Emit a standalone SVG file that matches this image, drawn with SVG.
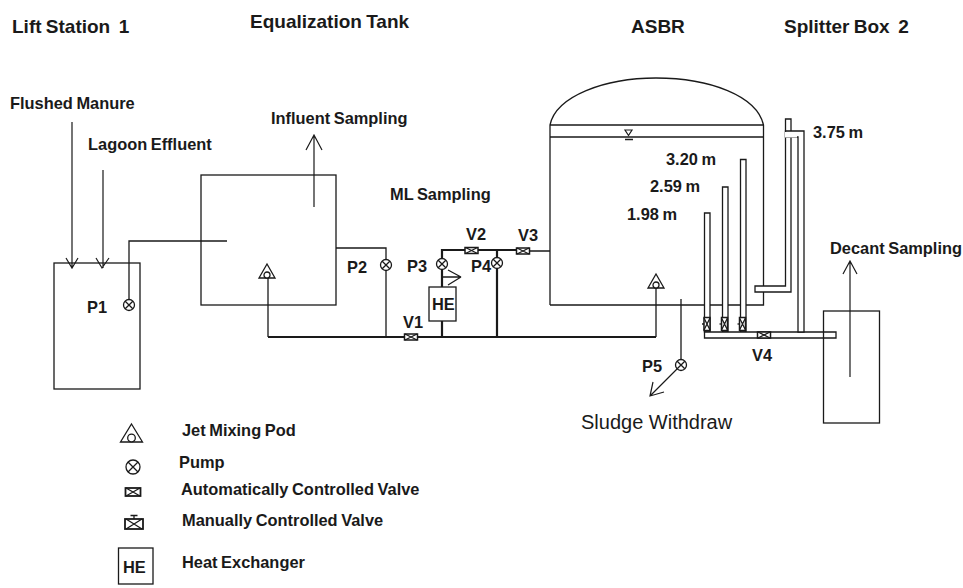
<svg xmlns="http://www.w3.org/2000/svg" width="963" height="588" viewBox="0 0 963 588">
<style>
text{font-family:"Liberation Sans",Arial,sans-serif;font-size:16.4px;font-weight:bold;fill:#1a1a1a;word-spacing:-1px}
.h{font-size:19px}
.l{fill:none;stroke:#1a1a1a;stroke-width:1.3}
.t{fill:none;stroke:#1a1a1a;stroke-width:2.2}
.w{fill:#fff;stroke:#1a1a1a;stroke-width:1.3}
.a{fill:none;stroke:#1a1a1a;stroke-width:1.2}
</style>
<defs>
<g id="pump"><circle r="5.5" class="w"/><path d="M-3.8-3.8L3.8 3.8M-3.8 3.800L3.8-3.8" class="l"/></g>
<g id="valve"><rect x="-6.5" y="-3" width="13" height="6" fill="#fff" stroke="#1a1a1a" stroke-width="1.5"/><path d="M-6-3L6 3M-6 3L6-3" class="l"/></g>
<g id="mvalve"><rect x="-3" y="-6.5" width="6" height="13" fill="#fff" stroke="#1a1a1a" stroke-width="1.5"/><path d="M-3-6L3 6M3-6L-3 6" class="l"/><path d="M-5 0H-3" class="l" stroke-width="2"/></g>
<g id="jet"><path d="M0-7L8 7H-8Z" class="w"/><circle cx="0" cy="4" r="3" class="w"/></g>
</defs>
<g id="titles">
<text class="h" x="12" y="33">Lift Station&#160; 1</text>
<text class="h" x="250" y="28">Equalization Tank</text>
<text class="h" x="631" y="33">ASBR</text>
<text class="h" x="784" y="33">Splitter Box&#160; 2</text>
</g>
<g id="connectors">
<path class="t" d="M268 337H656M442 337V250H520M497 337V250"/>
<path class="l" d="M129 300V241H227M336 248H386V337M268 337V278M656 337V288M520 251H550M681 299V362"/>
<path class="a" d="M72 122V268M66 258L72 268L78 258M103 170V268M96 258L102 268L109 258M314 207V135M306 150L314 135L322 150M850 377V261M843 274L850 261L857 274M681 365L650 396M653 382L650 396L664 392"/>
<path class="l" d="M442 277H461L448 270M461 277L448 285"/>
</g>
<g id="lift-station"><rect x="54" y="263" width="86" height="126" class="l"/><text x="87" y="313">P1</text><use href="#pump" x="129" y="305"/></g>
<g id="eq-tank"><rect x="201" y="175" width="135" height="130" class="l"/><use href="#jet" x="267" y="271"/><text x="347" y="273">P2</text><use href="#pump" x="386" y="265"/></g>
<g id="he"><rect x="429" y="287" width="27" height="34" class="w"/><text x="432" y="310">HE</text><use href="#pump" x="442" y="264"/><use href="#pump" x="497" y="263"/><use href="#valve" x="471.500" y="250.500"/><use href="#valve" x="523" y="251"/><use href="#valve" x="411" y="337"/></g>
<g id="asbr">
<path class="l" d="M550 305V125C556 96 605 78 656 78C710 78 757 96 763.500 125V305H550M550 125H763.500M550 137H763.500"/>
<path d="M625 130H632L628.500 135.500Z" fill="#fff" stroke="#1a1a1a" stroke-width="1.2"/><path d="M625 139.500H633" stroke="#1a1a1a" stroke-width="1.500"/>
<use href="#jet" x="656" y="281"/><use href="#pump" x="681" y="365"/>
</g>
<g id="piping">
<path class="w" d="M704.500 332V213H710V332ZM722.500 332V187H728V332ZM740.500 332V159.500H746V332Z"/>
<path class="w" d="M704.500 332H836V338H704.500Z"/>
<path class="w" d="M755 286H785.500V119H791V292H755Z"/>
<path class="w" d="M785.500 131H804V332H798V137H785.500Z"/>
<path d="M786 132V136.500H797M799 333V337" fill="none" stroke="#fff" stroke-width="2"/>
<use href="#mvalve" x="707" y="324"/><use href="#mvalve" x="724.500" y="324"/><use href="#mvalve" x="742.500" y="324"/><use href="#valve" x="764" y="335"/>
</g>
<g id="splitter"><rect x="823.500" y="311" width="56" height="112" class="l"/></g>
<g id="labels">
<text x="10" y="109">Flushed Manure</text>
<text x="88" y="150">Lagoon Effluent</text>
<text x="271" y="124">Influent Sampling</text>
<text x="390" y="200">ML Sampling</text>
<text x="407" y="272">P3</text><text x="471" y="272">P4</text><text x="466" y="240">V2</text><text x="518" y="241">V3</text><text x="403" y="328">V1</text>
<text x="642" y="372">P5</text><text x="752" y="361">V4</text>
<text x="666" y="165">3.20 m</text><text x="650" y="192">2.59 m</text><text x="627" y="220">1.98 m</text><text x="813" y="138">3.75 m</text>
<text x="830" y="254">Decant Sampling</text>
<text x="581" y="429" style="font-size:20px;font-weight:normal;word-spacing:0">Sludge Withdraw</text>
</g>
<g id="legend">
<g transform="translate(131.500 433)"><path d="M0-9L11 9H-11Z" class="w"/><circle cy="5" r="3.800" class="w"/></g>
<g transform="translate(133 467)"><circle r="7" class="w"/><path d="M-5-5L5 5M-5 5L5-5" class="l"/></g>
<g transform="translate(133 492)"><rect x="-7.500" y="-4" width="15" height="8" fill="#fff" stroke="#1a1a1a" stroke-width="1.800"/><path d="M-7-4L7 4M-7 4L7-4" class="l"/></g>
<g transform="translate(134 524)"><rect x="-9" y="-5" width="18" height="10" fill="#fff" stroke="#1a1a1a" stroke-width="1.800"/><path d="M-8-5L8 5M-8 5L8-5M0-5V-8.500M-3.500-8.500H3.500" class="l"/></g>
<rect x="118.500" y="548" width="34.500" height="36" class="l"/><text x="123" y="573">HE</text>
<text x="182" y="436">Jet Mixing Pod</text><text x="179" y="468">Pump</text><text x="181" y="495">Automatically Controlled Valve</text><text x="182" y="526">Manually Controlled Valve</text><text x="182" y="568">Heat Exchanger</text>
</g>
</svg>
